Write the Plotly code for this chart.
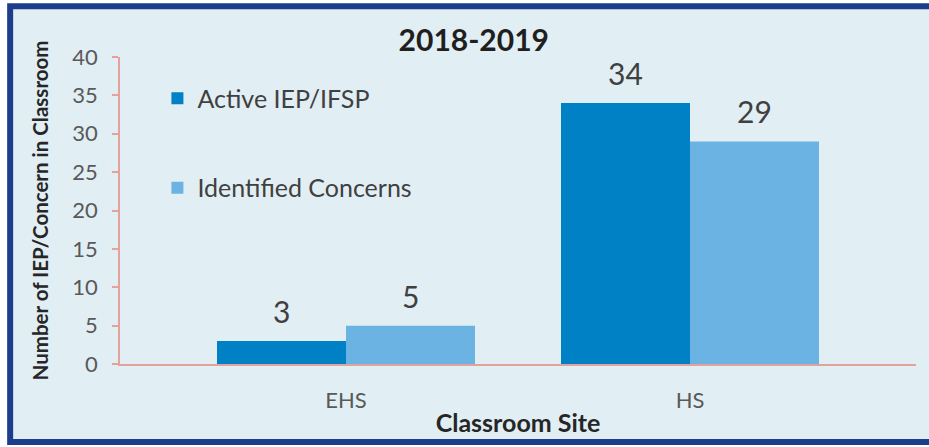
import plotly.graph_objects as go

# data
SITES = ["EHS", "HS"]
ACTIVE_IEP = [3, 34]
IDENTIFIED = [5, 29]
SERIES_NAMES = ["Active IEP/IFSP", "Identified Concerns"]

COLOR_DARK = "#0081C6"
COLOR_LIGHT = "#6BB3E3"
COLOR_BG = "#E1EEF4"
COLOR_FRAME = "#1D3E8A"
COLOR_AXIS = "#E3A39C"
FONT = "Lato, 'Open Sans', sans-serif"

fig = go.Figure()
for name, vals, color in zip(SERIES_NAMES, [ACTIVE_IEP, IDENTIFIED], [COLOR_DARK, COLOR_LIGHT]):
    fig.add_trace(go.Bar(
        x=SITES, y=vals, name=name, marker_color=color,
        marker_line_width=0, legendgroup=name,
    ))

# value labels above the bars (half a bar width to each side of the category)
half_bar = 64.5
for k, vals in enumerate([ACTIVE_IEP, IDENTIFIED]):
    for site, v in zip(SITES, vals):
        fig.add_annotation(
            x=site, y=v, text=str(v), showarrow=False,
            xshift=-half_bar if k == 0 else half_bar, yshift=10,
            yanchor="bottom", font=dict(size=30, color="#404040", family=FONT),
        )

# frame around the chart (right edge runs off the picture)
fig.add_shape(
    type="rect", xref="paper", yref="paper",
    x0=-0.138, x1=1.05, y0=-0.254, y1=1.165,
    line=dict(color=COLOR_FRAME, width=6), fillcolor=COLOR_BG, layer="below",
)

fig.update_layout(
    width=929, height=447,
    margin=dict(l=120, r=13, t=57, b=83),
    paper_bgcolor="white",
    plot_bgcolor="rgba(0,0,0,0)",
    font=dict(family=FONT, color="#595959"),
    title=dict(text="<b>2018-2019</b>", x=0.51, xref="container", xanchor="center",
               y=1 - 40 / 447, yref="container", yanchor="middle",
               font=dict(size=30, color="#1F1F1F", family=FONT)),
    barmode="group", bargap=0.25, bargroupgap=0,
    showlegend=True,
    legend=dict(x=0.047, y=0.94, xanchor="left", yanchor="top",
                bgcolor="rgba(0,0,0,0)", font=dict(size=25, color="#404040", family=FONT),
                tracegroupgap=54, traceorder="grouped", itemwidth=30),
    xaxis=dict(
        range=[-0.657, 1.657], showline=True, linecolor=COLOR_AXIS, linewidth=1.5,
        ticks="", tickfont=dict(size=22, color="#595959"), ticklabelstandoff=16,
        title=dict(text="<b>Classroom Site</b>", font=dict(size=25, color="#262626"), standoff=2),
        showgrid=False, zeroline=False, automargin=False,
    ),
    yaxis=dict(
        range=[0, 40], dtick=5, showline=True, linecolor=COLOR_AXIS, linewidth=1.5,
        ticks="outside", ticklen=6, tickcolor=COLOR_AXIS, tickwidth=1.5,
        tickfont=dict(size=22, color="#595959"), ticklabelstandoff=10,
        title=dict(text="<b>Number of IEP/Concern in Classroom</b>",
                   font=dict(size=20.5, color="#262626"), standoff=18),
        showgrid=False, zeroline=False, automargin=False,
    ),
)

fig.write_html("out.html", config={"displayModeBar": False},
               post_script="document.body.style.margin = '0';")
